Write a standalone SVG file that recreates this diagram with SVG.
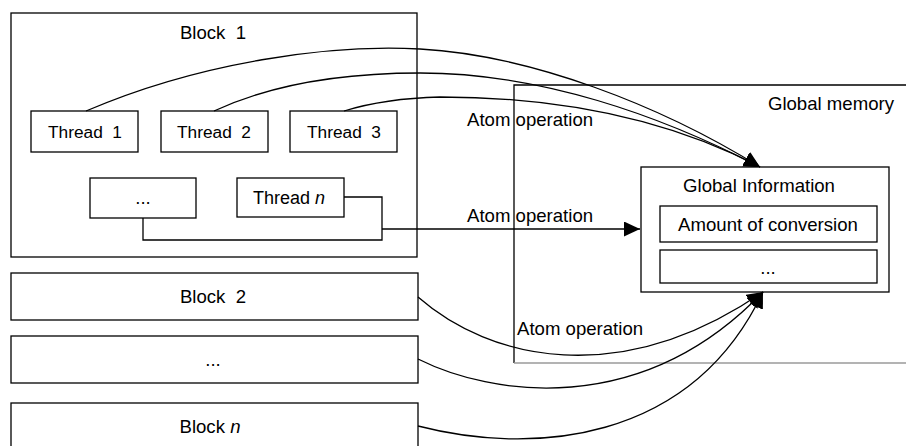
<svg xmlns="http://www.w3.org/2000/svg" width="906" height="446" viewBox="0 0 906 446">
  <style>
    .box { fill: #fff; stroke: #000; stroke-width: 1.3; }
    .line { fill: none; stroke: #000; stroke-width: 1.3; }
    text { font-family: "Liberation Sans", Arial, sans-serif; font-size: 18.6px; fill: #000; white-space: pre; }
    .c { text-anchor: middle; }
    .th { font-size: 17.3px; }
  </style>
  <defs>
    <marker id="arrow" markerUnits="userSpaceOnUse" markerWidth="18" markerHeight="16" refX="16" refY="7.5" orient="auto">
      <path d="M0,0 L16,7.5 L0,15 z" fill="#000"/>
    </marker>
  </defs>

  <rect width="906" height="446" fill="#fff"/>

  <!-- Global memory region (open on the right) -->
  <g id="global-memory">
    <path d="M906,85 H514 V363" class="line"/>
    <path d="M514,363 H906" fill="none" stroke="#9a9a9a" stroke-width="1.3"/>
    <text x="894" y="110" text-anchor="end">Global memory</text>
  </g>

  <!-- Block 1 with its threads -->
  <g id="block1">
    <rect x="11" y="13" width="406" height="244" class="box"/>
    <text x="213" y="39" class="c">Block  1</text>
  </g>
  <g id="thread1">
    <rect x="31" y="111" width="107" height="41" class="box"/>
    <text x="85" y="138" class="c th">Thread  1</text>
  </g>
  <g id="thread2">
    <rect x="161" y="111" width="107" height="41" class="box"/>
    <text x="214" y="138" class="c th">Thread  2</text>
  </g>
  <g id="thread3">
    <rect x="290" y="111" width="107" height="41" class="box"/>
    <text x="344" y="138" class="c th">Thread  3</text>
  </g>
  <g id="thread-etc">
    <rect x="90" y="178" width="106" height="40" class="box"/>
    <text x="143" y="204" class="c">...</text>
  </g>
  <g id="thread-n">
    <rect x="237" y="178" width="107" height="39" class="box"/>
    <text x="289" y="204" class="c" style="font-size:18px">Thread <tspan font-style="italic">n</tspan></text>
  </g>

  <!-- Other blocks -->
  <g id="block2">
    <rect x="11" y="273" width="407" height="47" class="box"/>
    <text x="213" y="303" class="c">Block  2</text>
  </g>
  <g id="block-etc">
    <rect x="11" y="336" width="407" height="47" class="box"/>
    <text x="213" y="366" class="c">...</text>
  </g>
  <g id="block-n">
    <rect x="11" y="403" width="407" height="60" class="box"/>
    <text x="210" y="433" class="c">Block <tspan font-style="italic">n</tspan></text>
  </g>

  <!-- Global information store -->
  <g id="global-info">
    <rect x="641" y="167" width="248" height="125" class="box"/>
    <text x="759" y="192" class="c">Global Information</text>
    <rect x="660" y="206" width="217" height="36" class="box"/>
    <text x="768" y="231" class="c">Amount of conversion</text>
    <rect x="660" y="250" width="217" height="33" class="box"/>
    <text x="768" y="274" class="c">...</text>
  </g>

  <!-- Connectors -->
  <g id="connectors">
    <path d="M86,111 C200,62 330,44 420,49 C530,55 660,105 760,167" class="line" marker-end="url(#arrow)"/>
    <path d="M214,111 C270,85 340,73 420,73 C540,73 660,115 760,167" class="line" marker-end="url(#arrow)"/>
    <path d="M344,111 C370,103 400,98 440,97 C560,97 670,120 760,167" class="line" marker-end="url(#arrow)"/>
    <path d="M344,197 H382 V240 H143 V218" class="line"/>
    <path d="M382,229 H640" class="line" marker-end="url(#arrow)"/>
    <path d="M418,297 C490,360 620,390 763,292" class="line" marker-end="url(#arrow)"/>
    <path d="M418,359 C490,395 640,420 763,292" class="line" marker-end="url(#arrow)"/>
    <path d="M418,426 C530,455 690,445 763,292" class="line" marker-end="url(#arrow)"/>
  </g>

  <!-- Operation labels -->
  <g id="labels">
    <text x="467" y="126">Atom operation</text>
    <text x="467" y="222">Atom operation</text>
    <text x="517" y="335">Atom operation</text>
  </g>
</svg>
